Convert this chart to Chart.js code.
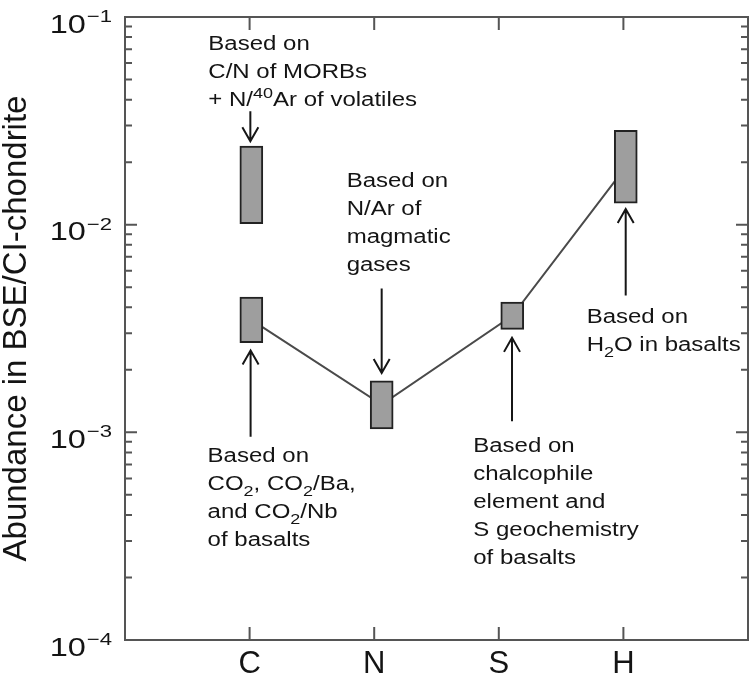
<!DOCTYPE html>
<html><head><meta charset="utf-8">
<script src="https://cdn.jsdelivr.net/npm/chart.js@4.4.1/dist/chart.umd.min.js"></script>
<style>html,body{margin:0;padding:0;background:#fff}#wrap{width:752px;height:681px;position:relative}</style>
</head><body><div id="wrap"><canvas id="c"></canvas></div>
<script>
// ---- data ----
const categories = ['C', 'N', 'S', 'H'];
const categoryPos = [1, 2, 3, 4];

const boxNames = ['C (C/N of MORBs)', 'C (basalts)', 'N', 'S', 'H'];
const boxX = [1.014, 1.014, 2.06, 3.108, 4.019];
const boxLow = [0.0101, 0.00270, 0.00104, 0.00313, 0.0127];
const boxHigh = [0.0239, 0.00448, 0.00177, 0.00424, 0.0285];

const lineX = [1.014, 2.06, 3.108, 4.019];
const lineY = [0.00348, 0.00136, 0.00364, 0.0190];

const yDecades = [1e-4, 1e-3, 1e-2, 1e-1];
const yDecadeExp = ['−4', '−3', '−2', '−1'];
const minorMultipliers = [2, 3, 4, 5, 6, 7, 8, 9];

const arrowX = [1.006, 1.008, 2.06, 3.106, 4.0185];
const arrowFrom = [0.0352, 0.000952, 0.00493, 0.00113, 0.00456];
const arrowTo = [0.0252, 0.00248, 0.00193, 0.00285, 0.0119];

const noteX = [0.669, 0.663, 1.779, 2.795, 3.705];
const noteY = [0.0693, 0.000722, 0.0152, 0.000801, 0.00337];
const noteLines = [
  ['Based on', 'C/N of MORBs', '+ N/^{40}Ar of volatiles'],
  ['Based on', 'CO_{2}, CO_{2}/Ba,', 'and CO_{2}/Nb', 'of basalts'],
  ['Based on', 'N/Ar of', 'magmatic', 'gases'],
  ['Based on', 'chalcophile', 'element and', 'S geochemistry', 'of basalts'],
  ['Based on', 'H_{2}O in basalts']
];

// ---- style ----
const FONT = '"Liberation Sans", Arial, Helvetica, sans-serif';
const AXIS = '#555555';
const TEXT = '#141414';
const SX = 1.2;
const SX_TICK = 1.3;

function drawRich(ctx, str, x, y, size) {
  const parts = str.split(/(_\{[^}]*\}|\^\{[^}]*\})/).filter(s => s.length);
  let cx = x;
  for (const p of parts) {
    let t = p, fs = size, dy = 0;
    if (p.startsWith('_{')) { t = p.slice(2, -1); fs = size * 0.75; dy = size * 0.3; }
    else if (p.startsWith('^{')) { t = p.slice(2, -1); fs = size * 0.75; dy = -size * 0.42; }
    ctx.font = fs + 'px ' + FONT;
    ctx.save(); ctx.translate(cx, y + dy); ctx.scale(SX, 1); ctx.fillText(t, 0, 0); ctx.restore();
    cx += ctx.measureText(t).width * SX;
  }
}

const deco = {
  id: 'deco',
  afterDraw(chart) {
    const ctx = chart.ctx, xs = chart.scales.x, ys = chart.scales.y, a = chart.chartArea;
    ctx.save();
    // inward ticks
    ctx.strokeStyle = AXIS; ctx.lineWidth = 2; ctx.lineCap = 'butt';
    ctx.beginPath();
    yDecades.forEach((d, i) => {
      const py = ys.getPixelForValue(d);
      ctx.moveTo(a.left, py); ctx.lineTo(a.left + 12, py);
      ctx.moveTo(a.right, py); ctx.lineTo(a.right - 12, py);
      if (i < yDecades.length - 1) {
        minorMultipliers.forEach(m => {
          const pm = ys.getPixelForValue(d * m);
          ctx.moveTo(a.left, pm); ctx.lineTo(a.left + 7, pm);
          ctx.moveTo(a.right, pm); ctx.lineTo(a.right - 7, pm);
        });
      }
    });
    categoryPos.forEach(v => {
      const px = xs.getPixelForValue(v);
      ctx.moveTo(px, a.bottom); ctx.lineTo(px, a.bottom - 13);
      ctx.moveTo(px, a.top); ctx.lineTo(px, a.top + 13);
    });
    ctx.stroke();

    // y tick labels 10^n
    ctx.fillStyle = TEXT; ctx.textBaseline = 'alphabetic'; ctx.textAlign = 'left';
    yDecades.forEach((d, i) => {
      const py = ys.getPixelForValue(d);
      ctx.font = '25px ' + FONT;
      const w1 = ctx.measureText('10').width * SX_TICK;
      ctx.font = '17px ' + FONT;
      const w2 = ctx.measureText(yDecadeExp[i]).width * SX_TICK;
      const x0 = 111 - w1 - w2;
      ctx.font = '25px ' + FONT;
      ctx.save(); ctx.translate(x0, py + 15.5); ctx.scale(SX_TICK, 1); ctx.fillText('10', 0, 0); ctx.restore();
      ctx.font = '17px ' + FONT;
      ctx.save(); ctx.translate(x0 + w1 + 1, py + 5); ctx.scale(SX_TICK, 1); ctx.fillText(yDecadeExp[i], 0, 0); ctx.restore();
    });

    // arrows
    ctx.strokeStyle = '#161616'; ctx.lineWidth = 2;
    arrowX.forEach((v, i) => {
      const px = xs.getPixelForValue(v);
      const p1 = ys.getPixelForValue(arrowFrom[i]);
      const p2 = ys.getPixelForValue(arrowTo[i]);
      const dir = p2 > p1 ? 1 : -1;
      ctx.beginPath();
      ctx.moveTo(px, p1); ctx.lineTo(px, p2);
      ctx.moveTo(px - 8, p2 - dir * 14); ctx.lineTo(px, p2); ctx.lineTo(px + 8, p2 - dir * 14);
      ctx.stroke();
    });

    // notes
    ctx.fillStyle = TEXT;
    noteX.forEach((v, i) => {
      const px = xs.getPixelForValue(v);
      const py = ys.getPixelForValue(noteY[i]);
      noteLines[i].forEach((ln, j) => drawRich(ctx, ln, px, py + j * 28, 20));
    });
    ctx.restore();
  }
};

new Chart(document.getElementById('c'), {
  type: 'bar',
  data: {
    datasets: [
      {
        type: 'bar',
        label: 'Range',
        data: boxX.map((x, i) => ({ x: x, y: [boxLow[i], boxHigh[i]] })),
        backgroundColor: '#9e9e9e',
        borderColor: '#222222',
        borderWidth: 2,
        borderSkipped: false,
        barThickness: 23,
        grouped: false,
        order: 0
      },
      {
        type: 'line',
        label: 'Trend',
        data: lineX.map((x, i) => ({ x: x, y: lineY[i] })),
        borderColor: '#4a4a4a',
        borderWidth: 2,
        pointRadius: 0,
        tension: 0,
        fill: false,
        order: 1
      }
    ]
  },
  options: {
    responsive: true,
    maintainAspectRatio: false,
    animation: false,
    events: [],
    layout: { padding: { top: 17, right: 4, bottom: 0, left: 0 } },
    plugins: { legend: { display: false }, tooltip: { enabled: false } },
    scales: {
      x: {
        type: 'linear', position: 'bottom', min: 0, max: 5, offset: false,
        afterBuildTicks(s) { s.ticks = categoryPos.map(v => ({ value: v })); },
        ticks: {
          autoSkip: false, maxRotation: 0, padding: 6, color: TEXT,
          font: { size: 31, family: FONT },
          callback: v => { const i = categoryPos.indexOf(v); return i >= 0 ? categories[i] : ''; }
        },
        grid: { display: false, drawTicks: false, offset: false },
        border: { display: true, color: AXIS, width: 2 },
        afterFit(s) { s.height = 41; }
      },
      x2: {
        type: 'linear', position: 'top', min: 0, max: 5, offset: false,
        ticks: { display: false },
        grid: { display: false, drawTicks: false, offset: false },
        border: { display: true, color: AXIS, width: 2 },
        afterFit(s) { s.height = 0; }
      },
      y: {
        type: 'logarithmic', position: 'left', min: 1e-4, max: 1e-1,
        ticks: { display: false },
        grid: { display: false, drawTicks: false },
        border: { display: true, color: AXIS, width: 2 },
        title: {
          display: true, text: 'Abundance in BSE/CI-chondrite', color: TEXT,
          font: { size: 33, family: FONT, lineHeight: 1 }, padding: { top: 0, bottom: 0 }
        },
        afterFit(s) { s.width = 125; }
      },
      y2: {
        type: 'logarithmic', position: 'right', min: 1e-4, max: 1e-1,
        ticks: { display: false },
        grid: { display: false, drawTicks: false },
        border: { display: true, color: AXIS, width: 2 },
        afterFit(s) { s.width = 0; }
      }
    }
  },
  plugins: [deco]
});
</script>
</body></html>
